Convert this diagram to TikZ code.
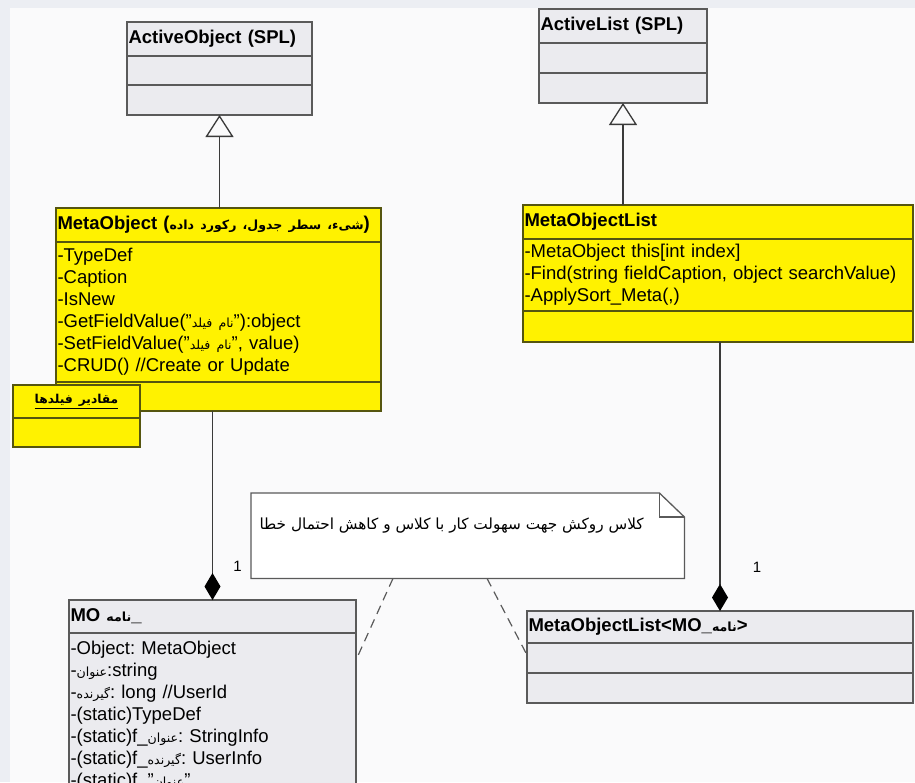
\documentclass[tikz,border=0pt]{standalone}
\usepackage{fontspec}
\setmainfont{Liberation Sans}
\newfontfamily\farsi[Script=Arabic,Scale=0.68]{DejaVu Sans}
\TeXXeTstate=1
\frenchspacing
\usetikzlibrary{positioning,arrows.meta}
\newcommand\fa[1]{{\farsi\beginR #1\endR}}
\definecolor{bggrey}{HTML}{ECEEF3}
\definecolor{paper}{HTML}{FAFAFB}
\definecolor{boxgrey}{HTML}{EBEBEF}
\definecolor{boxedge}{HTML}{5A5A5A}
\definecolor{oliveedge}{HTML}{55550F}
\definecolor{linegrey}{HTML}{3A3A3A}
\tikzset{
  classpart/.style={draw, outer sep=0pt, inner xsep=1.5pt, inner ysep=0pt,
    anchor=north west, align=left, line width=1.5pt,
    font=\fontsize{18.5}{22}\selectfont},
  ylwpart/.style={classpart, draw=oliveedge, fill=yellow},
  grypart/.style={classpart, draw=boxedge, fill=boxgrey},
  titletext/.style={font=\fontsize{18.5}{22}\selectfont\bfseries},
  inherit/.style={draw=linegrey, line width=1.4pt,
    -{Triangle[open, length=22pt, width=28pt, line width=1.3pt]}},
  compose/.style={draw=linegrey, line width=1.4pt,
    -{Diamond[length=27pt, width=16pt, black]}},
  notelink/.style={draw=boxedge, line width=1.2pt, dash pattern=on 9pt off 6pt},
  mult/.style={font=\fontsize{15}{17}\selectfont}
}
\begin{document}
\begin{tikzpicture}[x=1pt, y=-1pt]
\useasboundingbox (0,0) rectangle (915,782);
\clip (0,0) rectangle (915,782);
\fill[bggrey] (0,0) rectangle (915,782);
\fill[paper] (10,8) rectangle (915,782);

% base classes
\node[grypart, titletext, text width=182pt, minimum height=34pt] (ao-t) at (127,22) {ActiveObject (SPL)};
\node[grypart, text width=182pt, minimum height=29pt, below=0pt of ao-t.south west, anchor=north west] (ao-a) {};
\node[grypart, text width=182pt, minimum height=30pt, below=0pt of ao-a.south west, anchor=north west] (ao-o) {};

\node[grypart, titletext, text width=165pt, minimum height=34pt] (al-t) at (539,9) {ActiveList (SPL)};
\node[grypart, text width=165pt, minimum height=30pt, below=0pt of al-t.south west, anchor=north west] (al-a) {};
\node[grypart, text width=165pt, minimum height=30pt, below=0pt of al-a.south west, anchor=north west] (al-o) {};

% MetaObject
\node[ylwpart, titletext, text width=322pt, minimum height=34pt] (meta-t) at (56,208)
  {MetaObject (\fa{شیء، سطر جدول، رکورد داده})};
\node[ylwpart, text width=322pt, minimum height=140pt, below=0pt of meta-t.south west, anchor=north west] (meta-a)
  {-TypeDef\\
   -Caption\\
   -IsNew\\
   -GetFieldValue("\fa{نام فیلد}"):object\\
   -SetFieldValue("\fa{نام فیلد}", value)\\
   -CRUD() //Create or Update};
\node[ylwpart, text width=322pt, minimum height=29pt, below=0pt of meta-a.south west, anchor=north west] (meta-o) {};

\node[ylwpart, text width=124pt, minimum height=33pt, align=center, font=\fontsize{18}{20}\selectfont\bfseries] (vals-t) at (13,385)
  {\underline{\fa{مقادیر فیلدها}}};
\node[ylwpart, text width=124pt, minimum height=29pt, below=0pt of vals-t.south west, anchor=north west] (vals-a) {};

% MetaObjectList
\node[ylwpart, titletext, text width=387pt, minimum height=34pt] (mol-t) at (523,205) {MetaObjectList};
\node[ylwpart, text width=387pt, minimum height=72pt, below=0pt of mol-t.south west, anchor=north west] (mol-a)
  {-MetaObject this[int index]\\
   -Find(string fieldCaption, object searchValue)\\
   -ApplySort\_Meta(,)};
\node[ylwpart, text width=387pt, minimum height=31pt, below=0pt of mol-a.south west, anchor=north west] (mol-o) {};

% wrapper classes
\node[grypart, titletext, text width=284pt, minimum height=33pt] (mo-t) at (69,600) {MO \fa{نامه}\_};
\node[grypart, text width=284pt, minimum height=165pt, below=0pt of mo-t.south west, anchor=north west] (mo-a)
  {-Object: MetaObject\\
   -\fa{عنوان}:string\\
   -\fa{گیرنده}: long //UserId\\
   -(static)TypeDef\\
   -(static)f\_\fa{عنوان}: StringInfo\\
   -(static)f\_\fa{گیرنده}: UserInfo\\
   -(static)f\_"\fa{عنوان}"};

\node[grypart, titletext, text width=383pt, minimum height=32pt] (mxl-t) at (527,611) {MetaObjectList<MO\_\fa{نامه}>};
\node[grypart, text width=383pt, minimum height=30pt, below=0pt of mxl-t.south west, anchor=north west] (mxl-a) {};
\node[grypart, text width=383pt, minimum height=30pt, below=0pt of mxl-a.south west, anchor=north west] (mxl-o) {};

% note
\node[minimum width=433pt, minimum height=85pt, anchor=north west, inner sep=0pt] (note) at (251,493) {};
\draw[boxedge, line width=1.3pt, fill=white] (note.north west) -- ([xshift=-25pt]note.north east)
  -- ([yshift=-24pt]note.north east) -- (note.south east) -- (note.south west) -- cycle;
\draw[boxedge, line width=1.3pt] ([xshift=-25pt]note.north east) -- ([xshift=-25pt,yshift=-24pt]note.north east)
  -- ([yshift=-24pt]note.north east);
\node[anchor=west, font=\fontsize{22.5}{26}\selectfont] (notetext) at ([xshift=5pt,yshift=-33pt]note.north west)
  {\fa{کلاس روکش جهت سهولت کار با کلاس و کاهش احتمال خطا}};

% connectors
\draw[inherit] (meta-t.north -| ao-o.south) -- (ao-o.south);
\draw[inherit] (mol-t.north -| al-o.south) -- (al-o.south);
\draw[compose] (meta-o.south -| mo-t.north) -- (mo-t.north);
\draw[compose] (mol-o.south -| mxl-t.north) -- (mxl-t.north);
\node[mult] (m1) at ([xshift=25pt,yshift=34pt]mo-t.north) {1};
\node[mult] (m2) at ([xshift=37pt,yshift=44pt]mxl-t.north) {1};
\draw[notelink] ([xshift=142pt]note.south west) -- ([yshift=-27pt]mo-a.north east);
\draw[notelink] ([xshift=236pt]note.south west) -- ([yshift=-12pt]mxl-a.north west);
\end{tikzpicture}
\end{document}
